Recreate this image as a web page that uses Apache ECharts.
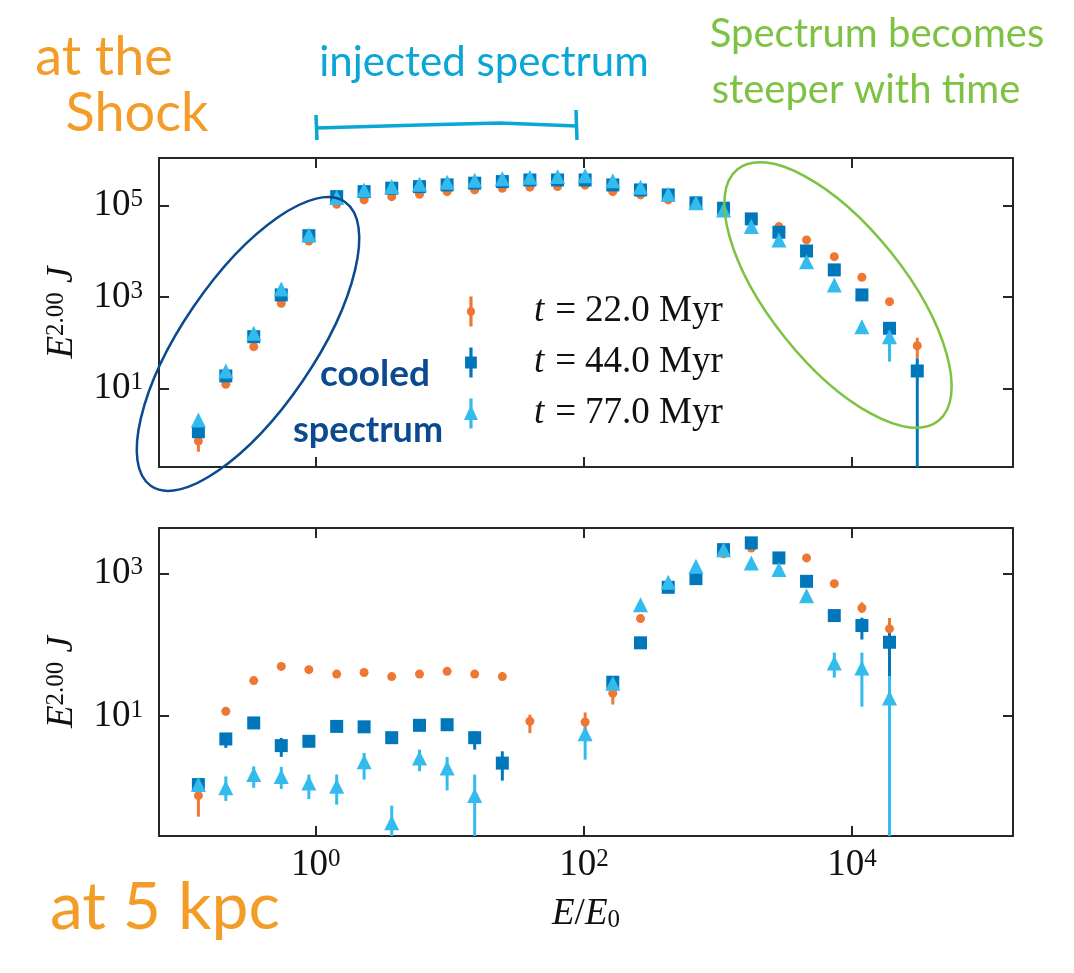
<!DOCTYPE html>
<html><head><meta charset="utf-8">
<script src="https://cdn.jsdelivr.net/npm/echarts@6/dist/echarts.min.js"></script>
<style>html,body{margin:0;padding:0;background:#fff}#c{width:1074px;height:973px}</style>
</head><body><div id="c"></div>
<script>
// ---------- data ----------
const energies = [0.133, 0.213, 0.344, 0.552, 0.887, 1.43, 2.29, 3.68, 5.93, 9.53, 15.3, 24.6, 39.5, 63.5, 102, 164, 264, 425, 684, 1099, 1770, 2844, 4571, 7362, 11830, 19010, 30620];
const timesMyr = [22.0, 44.0, 77.0];

// top panel: at the shock
const shock22 = [0.72, 12.5, 83, 736, 16900, 107000, 133000, 157000, 177000, 202000, 220000, 240000, 253000, 260000, 280000, 202000, 171000, 133000, 107000, 83000, 44700, 34800, 17800, 7670, 2720, 798, 87];
const shock44 = [1.15, 19, 137, 1120, 22000, 157000, 202000, 240000, 260000, 283000, 309000, 335000, 363000, 363000, 363000, 283000, 220000, 171000, 115000, 87700, 51200, 26200, 10200, 3940, 1120, 209, 24.4];
const shock77 = [2.07, 24.4, 162, 1510, 22900, 150000, 220000, 260000, 294000, 325000, 359000, 384000, 417000, 430000, 447000, 347000, 253000, 177000, 115000, 80500, 34800, 17800, 5970, 1850, 226, 137, null];
// error bars: [bin index, low, high]
const shockErr22 = [[0, 0.42, 0.95], [26, 46, 130]];
const shockErr44 = [[26, 0.01, 46]];
const shockErr77 = [[25, 39, 170]];

// bottom panel: at 5 kpc
const kpc22 = [0.77, 11.7, 31.6, 50, 45, 39, 41, 36, 39, 42.6, 39, 36, 8.5, null, 8.3, 21, 234, 630, 850, 1900, 2290, 1750, 1660, 724, 330, 168];
const kpc44 = [1.1, 4.8, 8.05, 3.87, 4.45, 7.2, 7.1, 5.0, 7.45, 7.6, 5.0, 2.2, null, null, null, 30, 107, 643, 851, 2170, 2700, 1660, 780, 258, 187, 109];
const kpc77 = [1.1, 0.99, 1.52, 1.43, 1.16, 1.04, 2.29, 0.32, 2.6, 1.88, 0.77, null, null, null, 5.7, 29, 367, 755, 1265, 2170, 1410, 1140, 491, 56, 47.6, 18];
const kpcErr22 = [[0, 0.39, 0.94], [1, 10.3, 13.5], [12, 5.8, 10.5], [14, 5.8, 11.3], [15, 14.6, 23.6], [24, 281, 396], [25, 147, 239]];
const kpcErr44 = [[1, 3.6, 5.5], [3, 2.69, 4.97], [10, 3.4, 6.15], [11, 1.25, 3.22], [24, 119, 241], [25, 36, 164]];
const kpcErr77 = [[1, 0.65, 1.43], [2, 0.99, 1.98], [3, 0.955, 1.95], [4, 0.69, 1.52], [5, 0.575, 1.52], [6, 1.29, 3.06], [7, 0.1, 0.557], [8, 1.69, 3.4], [9, 0.91, 2.69], [10, 0.1, 1.52], [14, 2.46, 7], [23, 34.8, 78], [24, 13.6, 78], [25, 0.1, 36]];

// tick exponents
const xTickExp = [0, 2, 4];
const yTickExpShock = [1, 3, 5];
const yTickExpKpc = [1, 3];

// ---------- styling ----------
const COLORS = ['#EE7733', '#0077BB', '#33BBEE'];
const SYMBOLS = ['circle', 'rect', 'triangle'];
const SIZES = [9, 13, 15];
const SERIF = '"Liberation Serif", "DejaVu Serif", serif';
const HAND = '"Lato", "Open Sans", sans-serif';
const AX = '#262626';
const TXT = '#111';
const FS = 37, FSS = 25;
const names = timesMyr.map(t => 't = ' + t.toFixed(1) + ' Myr');

const L10 = Math.log10;
function pts(vals) {
  const out = [];
  vals.forEach((v, i) => { if (v != null) out.push([L10(energies[i]), L10(v)]); });
  return out;
}
function errSeries(errs, k, gi) {
  return {
    type: 'custom', name: names[k], xAxisIndex: gi * 2, yAxisIndex: gi * 2, silent: true,
    data: errs.map(e => [L10(energies[e[0]]), L10(e[1]), L10(e[2])]),
    encode: { x: 0, y: [1, 2] },
    renderItem(params, api) {
      const p1 = api.coord([api.value(0), api.value(1)]);
      const p2 = api.coord([api.value(0), api.value(2)]);
      const cs = params.coordSys;
      const clamp = y => Math.min(Math.max(y, cs.y), cs.y + cs.height);
      return { type: 'line', shape: { x1: p1[0], y1: clamp(p1[1]), x2: p2[0], y2: clamp(p2[1]) },
        style: { stroke: COLORS[k], lineWidth: 3 } };
    }
  };
}
function scatter(vals, k, gi) {
  return { type: 'scatter', name: names[k], xAxisIndex: gi * 2, yAxisIndex: gi * 2,
    data: pts(vals), symbol: SYMBOLS[k], symbolSize: SIZES[k],
    itemStyle: { color: COLORS[k], opacity: 1 }, silent: true };
}

const supRich = {
  b: { fontFamily: SERIF, fontSize: FS, lineHeight: FS, color: TXT },
  s: { fontFamily: SERIF, fontSize: FSS, lineHeight: 18, verticalAlign: 'top', color: TXT }
};
const tickFmt = v => '{b|10}{s|' + Math.round(v) + '}';

function xAxis(gi, pos, labels) {
  return {
    type: 'value', gridIndex: gi, position: pos, min: -1.17, max: 5.2,
    axisLine: { show: true, onZero: false, lineStyle: { color: AX, width: 2 } },
    axisTick: { show: true, inside: true, length: 10, customValues: xTickExp, lineStyle: { color: AX, width: 2 } },
    axisLabel: labels ? { show: true, customValues: xTickExp, formatter: tickFmt, rich: supRich, margin: 11 } : { show: false },
    splitLine: { show: false },
    name: labels ? '{i|E}{r|/}{i|E}{sub|0}' : '',
    nameLocation: 'middle', nameGap: 60,
    nameTextStyle: { rich: {
      i: { fontFamily: SERIF, fontStyle: 'italic', fontSize: FS, lineHeight: FS, color: TXT },
      r: { fontFamily: SERIF, fontSize: FS, lineHeight: FS, color: TXT },
      sub: { fontFamily: SERIF, fontSize: FSS, lineHeight: 20, verticalAlign: 'bottom', color: TXT } } }
  };
}
function yAxis(gi, pos, labels, mn, mx, ticks) {
  return {
    type: 'value', gridIndex: gi, position: pos, min: mn, max: mx,
    axisLine: { show: true, onZero: false, lineStyle: { color: AX, width: 2 } },
    axisTick: { show: true, inside: true, length: 10, customValues: ticks, lineStyle: { color: AX, width: 2 } },
    axisLabel: labels ? { show: true, customValues: ticks, formatter: tickFmt, rich: supRich, margin: 16 } : { show: false },
    splitLine: { show: false },
    name: labels ? '{i|E}{s|2.00}{i| J}' : '',
    nameLocation: 'middle', nameRotate: 90, nameGap: 78,
    nameTextStyle: { rich: {
      i: { fontFamily: SERIF, fontStyle: 'italic', fontSize: FS, lineHeight: FS, color: TXT },
      s: { fontFamily: SERIF, fontSize: FSS, lineHeight: 18, verticalAlign: 'top', color: TXT } } }
  };
}

const iconCircle = 'path://M3.5,0 L6.5,0 L6.5,10 A4.6,4.6 0 0 1 6.5,18 L6.5,28 L3.5,28 L3.5,18 A4.6,4.6 0 0 1 3.5,10 Z';
const iconSquare = 'path://M3.5,0 L6.5,0 L6.5,8.5 L10.5,8.5 L10.5,19.5 L6.5,19.5 L6.5,28 L3.5,28 L3.5,19.5 L-0.5,19.5 L-0.5,8.5 L3.5,8.5 Z';
const iconTri = 'path://M3.5,0 L6.5,0 L6.5,9 L11.5,20 L6.5,20 L6.5,28 L3.5,28 L3.5,20 L-1.5,20 L3.5,9 Z';
const icons = [iconCircle, iconSquare, iconTri];

const series = [];
[[shock22, shockErr22], [shock44, shockErr44], [shock77, shockErr77]].forEach((d, k) => {
  series.push(errSeries(d[1], k, 0)); series.push(scatter(d[0], k, 0));
});
[[kpc22, kpcErr22], [kpc44, kpcErr44], [kpc77, kpcErr77]].forEach((d, k) => {
  series.push(errSeries(d[1], k, 1)); series.push(scatter(d[0], k, 1));
});

const hand = (text, x, y, size, color, weight) => ({
  type: 'text', z: 100, silent: true,
  style: { text, x, y, fontFamily: HAND, fontSize: size, fontWeight: weight || 'normal', fill: color,
    align: 'center', verticalAlign: 'middle', textAlign: 'center', textVerticalAlign: 'middle' }
});

const option = {
  animation: false,
  backgroundColor: '#fff',
  grid: [
    { left: 159, top: 158, width: 854, height: 309, containLabel: false },
    { left: 159, top: 528, width: 854, height: 308, containLabel: false }
  ],
  xAxis: [xAxis(0, 'bottom', false), xAxis(0, 'top', false), xAxis(1, 'bottom', true), xAxis(1, 'top', false)],
  yAxis: [yAxis(0, 'left', true, -0.71, 6.04, yTickExpShock), yAxis(0, 'right', false, -0.71, 6.04, yTickExpShock),
          yAxis(1, 'left', true, -0.68, 3.64, yTickExpKpc), yAxis(1, 'right', false, -0.68, 3.64, yTickExpKpc)],
  legend: {
    orient: 'vertical', left: 459, top: 288, itemWidth: 14, itemHeight: 30, itemGap: 14, padding: 5,
    selectedMode: false,
    data: names.map((n, k) => ({ name: n, icon: icons[k], itemStyle: { color: COLORS[k] } })),
    formatter: n => { const k = names.indexOf(n); return '{g| }{i|t}{eq|=}{n|' + timesMyr[k].toFixed(1) + ' Myr}'; },
    textStyle: { rich: {
      g: { width: 51, fontSize: 10 },
      i: { fontFamily: SERIF, fontStyle: 'italic', fontSize: FS, lineHeight: 37, color: TXT },
      eq: { fontFamily: SERIF, fontSize: FS, lineHeight: 37, padding: [0, 9, 0, 11], color: TXT },
      n: { fontFamily: SERIF, fontSize: FS, lineHeight: 37, color: TXT } } }
  },
  series,
  graphic: [
    hand('at the', 104, 58, 54, '#F39C28'),
    hand('Shock', 137, 114, 54, '#F39C28'),
    hand('injected spectrum', 484, 62, 42, '#0AA6D6'),
    { type: 'polyline', z: 100, silent: true, shape: { points: [[316, 115], [317, 140]] }, style: { stroke: '#0AA6D6', lineWidth: 3.5, fill: 'none' } },
    { type: 'polyline', z: 100, silent: true, shape: { points: [[317, 128], [420, 125], [500, 123], [577, 126]] }, style: { stroke: '#0AA6D6', lineWidth: 3.5, fill: 'none' } },
    { type: 'polyline', z: 100, silent: true, shape: { points: [[576, 110], [577, 140]] }, style: { stroke: '#0AA6D6', lineWidth: 3.5, fill: 'none' } },
    hand('Spectrum becomes', 877, 34, 40, '#7DC242'),
    hand('steeper with time', 866, 90, 40, '#7DC242'),
    hand('cooled', 375, 374, 37, '#0B4A8F', 'bold'),
    hand('spectrum', 368, 430, 36, '#0B4A8F', 'bold'),
    hand('at 5 kpc', 165, 908, 66, '#F39C28'),
    { type: 'ellipse', z: 100, silent: true, x: 248, y: 344, rotation: 0.972,
      shape: { cx: 0, cy: 0, rx: 172, ry: 66 }, style: { fill: 'none', stroke: '#0B4A8F', lineWidth: 2.5 } },
    { type: 'ellipse', z: 100, silent: true, x: 838, y: 295, rotation: -0.897,
      shape: { cx: 0, cy: 0, rx: 161, ry: 68 }, style: { fill: 'none', stroke: '#7DC242', lineWidth: 2.5 } }
  ]
};
const chart = echarts.init(document.getElementById('c'), null, { renderer: 'canvas' });
chart.setOption(option);
</script></body></html>
